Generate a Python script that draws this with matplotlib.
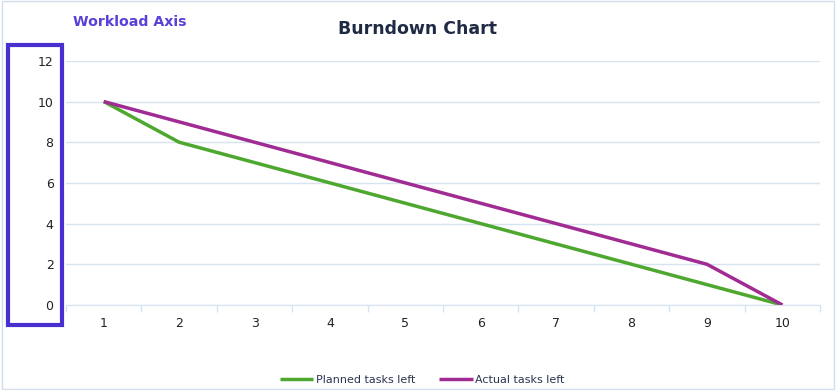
import matplotlib
matplotlib.use('Agg')
import matplotlib.pyplot as plt
from matplotlib.patches import Rectangle

# Data
days = [1, 2, 3, 4, 5, 6, 7, 8, 9, 10]
planned = [10, 8, 7, 6, 5, 4, 3, 2, 1, 0]
actual = [10, 9, 8, 7, 6, 5, 4, 3, 2, 0]
y_ticks = [0, 2, 4, 6, 8, 10, 12]

grid_col = '#D6E4F2'
green = '#4EA72E'
purple = '#A02B93'
box_col = '#4A2FD0'

fig = plt.figure(figsize=(8.36, 3.9), dpi=100)
ax = fig.add_axes([0.079, 0.218, 0.902, 0.626])

ax.plot(days, planned, color=green, lw=2.5, label='Planned tasks left', solid_capstyle='butt')
ax.plot(days, actual, color=purple, lw=2.5, label='Actual tasks left', solid_capstyle='butt')

ax.set_xlim(0.5, 10.5)
ax.set_ylim(0, 12)
ax.set_yticks(y_ticks)
ax.set_xticks(days)
ax.set_xticks([d + 0.5 for d in [0] + days], minor=True)
ax.grid(axis='y', color=grid_col, lw=1)
ax.set_axisbelow(True)
for s in ['top', 'right', 'left']:
    ax.spines[s].set_visible(False)
ax.spines['bottom'].set_color(grid_col)
ax.tick_params(axis='y', length=0, pad=9, labelsize=9, labelcolor='#222222')
ax.tick_params(axis='x', which='major', length=0, pad=9, labelsize=9, labelcolor='#222222')
ax.tick_params(axis='x', which='minor', length=5, color=grid_col, width=1)

fig.text(0.5, 0.925, 'Burndown Chart', ha='center', va='center', fontsize=12.5,
         fontweight='bold', color='#1F2A44')
fig.text(0.087, 0.943, 'Workload Axis', ha='left', va='center', fontsize=10.2,
         fontweight='bold', color='#5A3FD8')

# highlight box around the value axis
fig.patches.append(Rectangle((8 / 836, 1 - 325 / 390), 54 / 836, 280 / 390,
                             transform=fig.transFigure, fill=False,
                             edgecolor=box_col, lw=3))
# outer chart border
fig.patches.append(Rectangle((0.002, 0.003), 0.996, 0.994, transform=fig.transFigure,
                             fill=False, edgecolor='#D0DEEE', lw=1))

fig.legend(loc='center', bbox_to_anchor=(0.505, 0.025), ncol=2, frameon=False,
           fontsize=8, handlelength=3, columnspacing=2.2, handletextpad=0.2,
           labelcolor='#2A3550')

fig.savefig('out.png', dpi=100)
